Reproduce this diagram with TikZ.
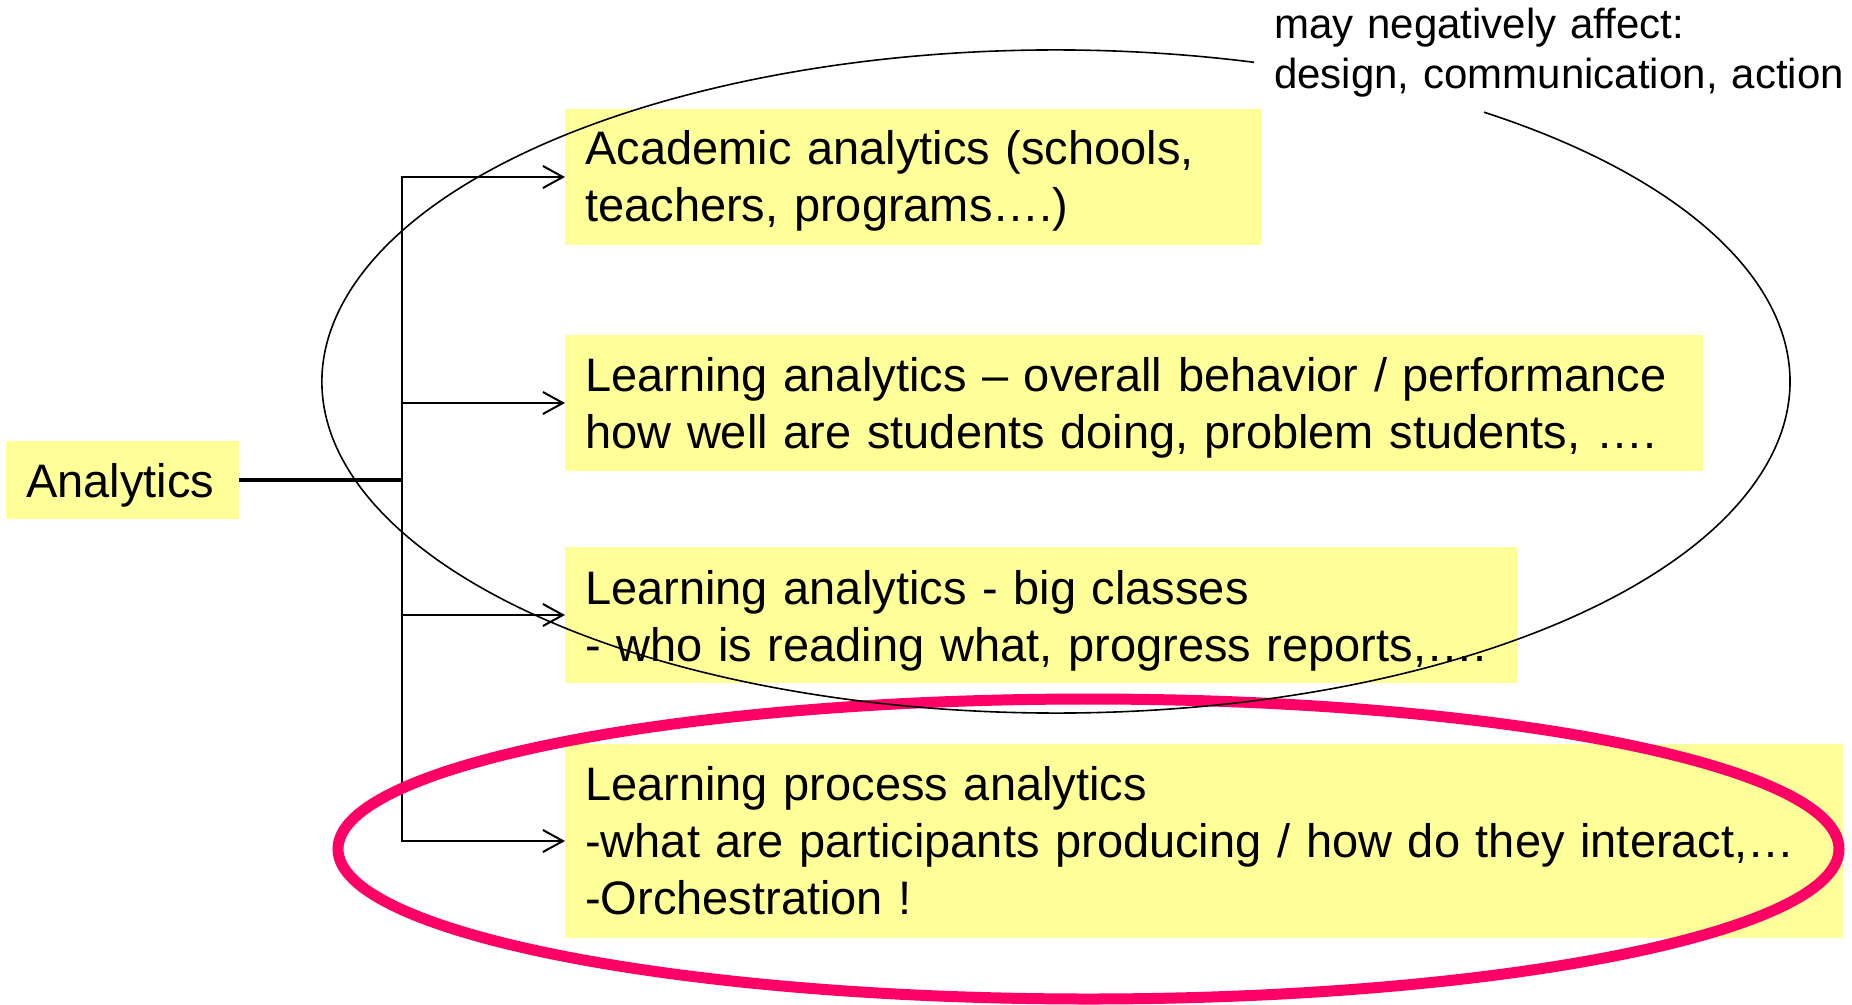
\documentclass[tikz,border=0pt]{standalone}
\usepackage{fontspec}
\setmainfont{Liberation Sans}
\usetikzlibrary{arrows.meta}
\definecolor{boxyellow}{RGB}{255,255,153}
\definecolor{hotred}{RGB}{255,0,102}
\tikzset{
  box/.style={fill=boxyellow, inner xsep=20pt, inner ysep=0pt, anchor=base west,
    align=left, font=\fontsize{47}{57.3}\selectfont},
  link/.style={line width=2pt, -{Straight Barb[length=20pt,width=22pt,line width=2pt]}},
  trunkline/.style={line width=2pt, line cap=rect},
  mainline/.style={line width=3.5pt},
  note/.style={anchor=base west, inner sep=0pt, align=left, text width=578pt, font=\fontsize{42}{50}\selectfont},
  redring/.style={draw=hotred, line width=11pt},
  blackring/.style={draw=black, line width=1.6pt}
}
\begin{document}
\begin{tikzpicture}[x=1pt,y=-1pt]
\useasboundingbox (0,0) rectangle (1852,1004);

\node[box, text height=56pt, text depth=22pt, text width=193pt] (an) at (6,497) {Analytics};
\node[box, text height=55pt, text depth=81pt, text width=656pt] (ac) at (565,164)
  {\mbox{Academic analytics (schools,}\\\mbox{teachers, programs….)}};
\node[box, text height=56pt, text depth=80pt, text width=1098pt] (ov) at (565,391)
  {\mbox{Learning analytics – overall behavior / performance}\\\mbox{how well are students doing, problem students, ….}};
\node[box, text height=57pt, text depth=79pt, text width=912pt] (bc) at (565,604)
  {\mbox{Learning analytics - big classes}\\\mbox{- who is reading what, progress reports,….}};
\node[box, text height=56pt, text depth=138pt, text width=1238pt] (pr) at (565,800)
  {\mbox{Learning process analytics}\\\mbox{-what are participants producing / how do they interact,…}\\\mbox{-Orchestration !}};

\coordinate (tr) at (401.5,480);
\draw[mainline] (an.east) -- (tr);
\draw[trunkline] (tr |- ac.west) -- (tr |- pr.west);
\draw[link] (tr |- ac.west) -- (ac.west);
\draw[link] (tr |- ov.west) -- (ov.west);
\draw[link] (tr |- bc.west) -- (bc.west);
\draw[link] (tr |- pr.west) -- (pr.west);

\draw[redring] (1088.5,849) ellipse [x radius=750.5pt, y radius=150pt];
\draw[blackring] (1254,62.3) arc [start angle=74.35, end angle=414.33, x radius=734pt, y radius=331.5pt];

\node[note] (neg) at (1274,38) {\mbox{may negatively affect:}\\\mbox{design, communication, action}};
\end{tikzpicture}
\end{document}
